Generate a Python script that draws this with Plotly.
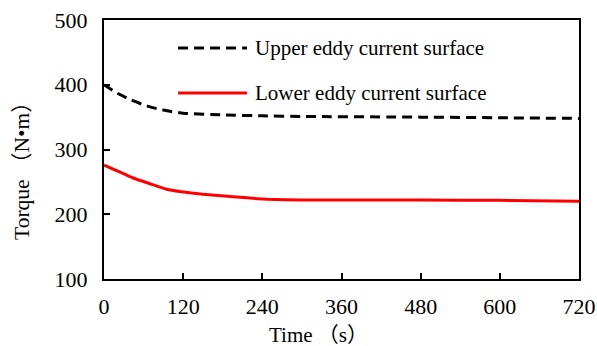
import plotly.graph_objects as go

# Data
time_upper = [0, 20, 40, 60, 80, 100, 120, 180, 240, 300, 480, 600, 720]
torque_upper = [400, 387, 377, 369, 363, 359, 356, 353.5, 352, 351, 350, 349, 348]

time_lower = [0, 20, 44, 70, 95, 115, 150, 196, 247, 300, 360, 480, 600, 720]
torque_lower = [276, 267, 256, 247, 238.5, 235, 231, 227, 223, 222, 222, 222, 221.5, 220]

series_names = ["Upper eddy current surface", "Lower eddy current surface"]
x_ticks = [0, 120, 240, 360, 480, 600, 720]
y_ticks = [100, 200, 300, 400, 500]

FONT = "Liberation Serif, Times New Roman, Noto Sans CJK SC, serif"

fig = go.Figure()
fig.add_trace(go.Scatter(x=time_upper, y=torque_upper, mode="lines",
                         name=series_names[0], line=dict(color="black", width=3, dash="10px,6px", shape="spline", smoothing=0.5),
                         showlegend=False))
fig.add_trace(go.Scatter(x=time_lower, y=torque_lower, mode="lines",
                         name=series_names[1], line=dict(color="#ff0000", width=3, shape="spline", smoothing=0.3),
                         showlegend=False))

# manual legend (long line samples like the reference)
leg_y = [0.892, 0.718]
leg_styles = [dict(color="black", width=3, dash="10px,6px"), dict(color="#ff0000", width=3)]
for name, yy, st in zip(series_names, leg_y, leg_styles):
    fig.add_shape(type="line", xref="paper", yref="paper", x0=0.156, x1=0.301, y0=yy, y1=yy, line=st)
    fig.add_annotation(xref="paper", yref="paper", x=0.314, y=yy, text=name, showarrow=False,
                       xanchor="left", yanchor="middle", font=dict(family=FONT, size=21, color="black"))

# axis titles
fig.add_annotation(xref="paper", yref="paper", x=(318 - 104) / 475, y=(279 - 335) / 259, text="Time （s）",
                   showarrow=False, xanchor="center", yanchor="middle", font=dict(family=FONT, size=21, color="black"))
fig.add_annotation(xref="paper", yref="paper", x=(22 - 104) / 475, y=(279 - 166) / 259, text="Torque （N•m）",
                   textangle=-90, showarrow=False, xanchor="center", yanchor="middle",
                   font=dict(family=FONT, size=21.5, color="black"))

fig.update_layout(
    width=597, height=346,
    margin=dict(l=104, r=18, t=20, b=67, autoexpand=False),
    paper_bgcolor="white", plot_bgcolor="white",
    font=dict(family=FONT, size=22, color="black"),
    showlegend=False,
)
fig.update_xaxes(range=[0, 720], tickvals=x_ticks, showgrid=False, zeroline=False, automargin=False,
                 showline=True, linecolor="black", linewidth=2, mirror=True,
                 ticks="inside", ticklen=6, tickwidth=1.5, tickcolor="black", ticklabelstandoff=7)
fig.update_yaxes(range=[100, 500], tickvals=y_ticks, showgrid=False, zeroline=False, automargin=False,
                 showline=True, linecolor="black", linewidth=2, mirror=True,
                 ticks="inside", ticklen=6, tickwidth=1.5, tickcolor="black", ticklabelstandoff=10)

fig.write_html("out.html")
